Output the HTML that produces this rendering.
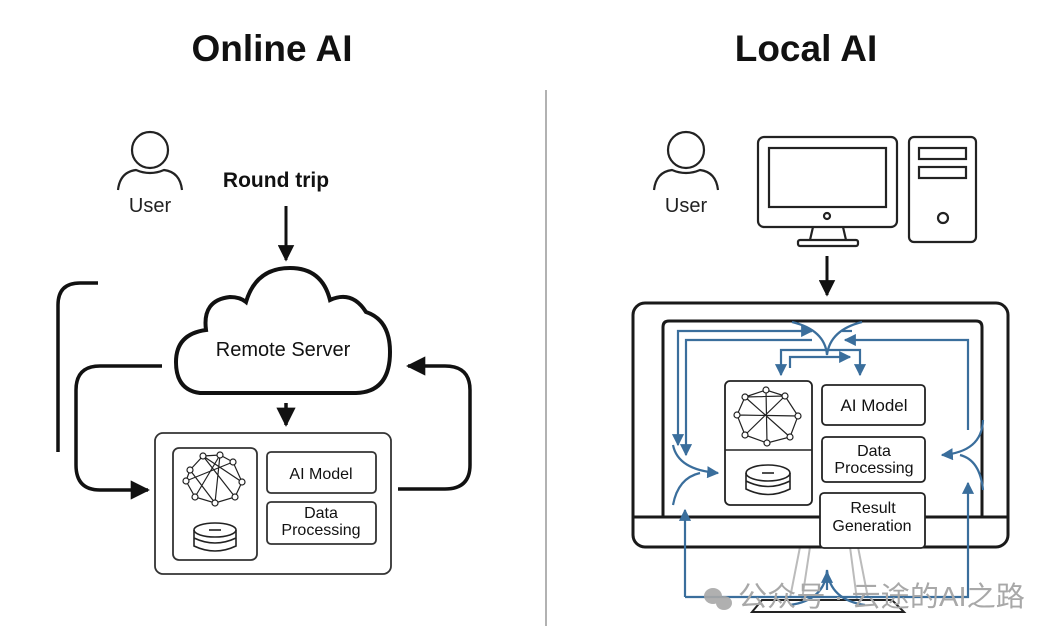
<!DOCTYPE html>
<html><head><meta charset="utf-8"><style>
html,body{margin:0;padding:0;background:#fff;}
svg{display:block;}
text{font-family:"Liberation Sans","Noto Sans CJK SC",sans-serif;}
</style></head><body>
<svg width="1059" height="638" viewBox="0 0 1059 638" xmlns="http://www.w3.org/2000/svg">
<defs>
<marker id="ab" viewBox="0 0 10 10" refX="9" refY="5" markerWidth="5.5" markerHeight="5.5" orient="auto"><path d="M0,0 L10,5 L0,10 z" fill="#111"/></marker>
<marker id="bl" viewBox="0 0 10 10" refX="9" refY="5" markerWidth="5.5" markerHeight="5.5" orient="auto"><path d="M0,0 L10,5 L0,10 z" fill="#3a6e9c"/></marker>
</defs>
<text x="272" y="61" font-size="37" font-weight="bold" text-anchor="middle" fill="#111">Online AI</text>
<text x="806" y="61" font-size="37" font-weight="bold" text-anchor="middle" fill="#111">Local AI</text>
<line x1="546" y1="90" x2="546" y2="626" stroke="#999" stroke-width="1.5"/>

<g fill="none" stroke="#222" stroke-width="2.2">
<circle cx="150" cy="150" r="18"/>
<path d="M118,190 Q120,172 136,170 Q150,176 164,170 Q180,172 182,190"/>
<circle cx="686" cy="150" r="18"/>
<path d="M654,190 Q656,172 672,170 Q686,176 700,170 Q716,172 718,190"/>
</g>
<text x="150" y="212" font-size="20" text-anchor="middle" fill="#222">User</text>
<text x="686" y="212" font-size="20" text-anchor="middle" fill="#222">User</text>
<text x="276" y="187" font-size="21" font-weight="bold" text-anchor="middle" fill="#111">Round trip</text>
<line x1="286" y1="206" x2="286" y2="260" stroke="#111" stroke-width="3" marker-end="url(#ab)"/>

<path d="M200,393 Q176,390 176,362 Q176,334 206,330 Q202,300 230,297 Q240,297 246,302 Q256,268 290,268 Q322,268 330,300 Q352,290 366,312 Q390,320 390,352 Q390,392 356,393 Z" fill="#fff" stroke="#111" stroke-width="4"/>
<text x="283" y="356" font-size="20" text-anchor="middle" fill="#111">Remote Server</text>

<g fill="none" stroke="#111" stroke-width="3.5">
<path d="M98,283 H80 Q58,283 58,305 V452"/>
<path d="M162,366 H100 Q76,366 76,390 V465 Q76,490 100,490 H148" marker-end="url(#ab)"/>
<path d="M398,489 H445 Q470,489 470,465 V390 Q470,366 445,366 H408" marker-end="url(#ab)"/>
<line x1="286" y1="403" x2="286" y2="425" marker-end="url(#ab)"/>
</g>
<rect x="155" y="433" width="236" height="141" rx="8" fill="#fff" stroke="#333" stroke-width="1.8"/>
<rect x="173" y="448" width="84" height="112" rx="6" fill="none" stroke="#333" stroke-width="1.8"/>
<rect x="267" y="452" width="109" height="41" rx="4" fill="none" stroke="#333" stroke-width="1.8"/>
<rect x="267" y="502" width="109" height="42" rx="4" fill="none" stroke="#333" stroke-width="1.8"/>
<text x="321" y="479" font-size="16" text-anchor="middle" fill="#111">AI Model</text>
<text x="321" y="518" font-size="16" text-anchor="middle" fill="#111">Data</text>
<text x="321" y="535" font-size="16" text-anchor="middle" fill="#111">Processing</text>
<g stroke="#222" stroke-width="1.2" fill="#fff">
<path d="M190,470 L203,456 L220,455 L233,462 L242,482 L235,497 L215,503 L195,497 L186,481 Z M190,470 L215,503 M203,456 L235,497 M220,455 L195,497 M233,462 L186,481 M242,482 L203,456 M215,503 L220,455" fill="none"/>
<circle cx="190" cy="470" r="3"/><circle cx="203" cy="456" r="3"/><circle cx="220" cy="455" r="3"/><circle cx="233" cy="462" r="3"/><circle cx="242" cy="482" r="3"/><circle cx="235" cy="497" r="3"/><circle cx="215" cy="503" r="3"/><circle cx="195" cy="497" r="3"/><circle cx="186" cy="481" r="3"/>
</g>
<g stroke="#222" stroke-width="1.6" fill="none">
<ellipse cx="215" cy="530" rx="21" ry="7"/>
<path d="M194,530 V546 Q215,556 236,546 V530 M194,538 Q215,548 236,538"/>
<line x1="209" y1="530" x2="221" y2="530"/>
</g>

<g fill="none" stroke="#222" stroke-width="2.2">
<rect x="758" y="137" width="139" height="90" rx="6"/>
<rect x="769" y="148" width="117" height="59"/>
<circle cx="827" cy="216" r="3"/>
<path d="M813,227 L810,240 M843,227 L846,240"/>
<rect x="798" y="240" width="60" height="6" rx="2"/>
<rect x="909" y="137" width="67" height="105" rx="5"/>
<rect x="919" y="148" width="47" height="11"/>
<rect x="919" y="167" width="47" height="11"/>
<circle cx="943" cy="218" r="5"/>
</g>
<line x1="827" y1="256" x2="827" y2="295" stroke="#111" stroke-width="3" marker-end="url(#ab)"/>

<g fill="none">
<path d="M800,547 L790,598 M858,547 L868,598 M810,547 L802,600 M850,547 L857,600" stroke="#bbb" stroke-width="2"/>
<path d="M752,612 L762,600 H892 L904,612 Z" stroke="#222" stroke-width="2"/>
<rect x="633" y="303" width="375" height="244" rx="12" stroke="#1a1a1a" stroke-width="3"/>
<path d="M663,517 V327 Q663,321 669,321 H976 Q982,321 982,327 V517" stroke="#1a1a1a" stroke-width="3"/>
<line x1="633" y1="517" x2="1008" y2="517" stroke="#1a1a1a" stroke-width="3"/>
</g>
<rect x="725" y="381" width="87" height="124" rx="5" fill="#fff" stroke="#222" stroke-width="1.8"/>
<line x1="725" y1="450" x2="812" y2="450" stroke="#222" stroke-width="1.5"/>
<g stroke="#222" stroke-width="1.2" fill="#fff">
<path d="M745,397 L766,390 L785,396 L798,416 L790,437 L767,443 L745,435 L737,415 Z M745,397 L790,437 M766,390 L767,443 M785,396 L745,435 M798,416 L737,415 M745,397 L785,396" fill="none"/>
<circle cx="745" cy="397" r="3"/><circle cx="766" cy="390" r="3"/><circle cx="785" cy="396" r="3"/><circle cx="798" cy="416" r="3"/><circle cx="790" cy="437" r="3"/><circle cx="767" cy="443" r="3"/><circle cx="745" cy="435" r="3"/><circle cx="737" cy="415" r="3"/>
</g>
<g stroke="#222" stroke-width="1.6" fill="none">
<ellipse cx="768" cy="473" rx="22" ry="8"/>
<path d="M746,473 V489 Q768,500 790,489 V473 M746,481 Q768,492 790,481"/>
<line x1="762" y1="473" x2="774" y2="473"/>
</g>
<rect x="822" y="385" width="103" height="40" rx="4" fill="#fff" stroke="#222" stroke-width="1.8"/>
<rect x="822" y="437" width="103" height="45" rx="4" fill="#fff" stroke="#222" stroke-width="1.8"/>
<rect x="820" y="493" width="105" height="55" rx="4" fill="#fff" stroke="#222" stroke-width="1.8"/>
<text x="874" y="411" font-size="17" text-anchor="middle" fill="#111">AI Model</text>
<text x="874" y="456" font-size="16" text-anchor="middle" fill="#111">Data</text>
<text x="874" y="473" font-size="16" text-anchor="middle" fill="#111">Processing</text>
<text x="873" y="513" font-size="16" text-anchor="middle" fill="#111">Result</text>
<text x="872" y="531" font-size="16" text-anchor="middle" fill="#111">Generation</text>

<g fill="none" stroke="#3a6e9c" stroke-width="2.2">
<path d="M812,331 H678 V445" marker-end="url(#bl)"/>
<path d="M812,340 H686 V455" marker-end="url(#bl)"/>
<path d="M968,430 V340 H845" marker-end="url(#bl)"/>
<path d="M792,322 Q825,330 827,355 Q830,330 862,322"/>
<path d="M800,331 H812" marker-end="url(#bl)"/>
<path d="M852,331 H842" />
<path d="M827,350 H781 V375" marker-end="url(#bl)"/>
<path d="M827,350 H860 V375" marker-end="url(#bl)"/>
<path d="M790,368 V357 H850" marker-end="url(#bl)"/>
<path d="M673,445 Q678,470 718,473" marker-end="url(#bl)"/>
<path d="M673,505 Q678,478 700,473"/>
<path d="M983,420 Q982,452 942,455" marker-end="url(#bl)"/>
<path d="M983,490 Q980,460 960,455"/>
<path d="M685,597 V510" marker-end="url(#bl)"/>
<path d="M685,597 H968 V483" marker-end="url(#bl)"/>
<path d="M790,605 Q825,600 827,570 Q830,600 865,605"/>
<path d="M827,590 V572" marker-end="url(#bl)"/>
</g>

<g fill="#a8a8a8" opacity="0.9">
<ellipse cx="713" cy="596" rx="9" ry="8"/>
<ellipse cx="724" cy="603" rx="8" ry="7"/>
</g>
<text x="738" y="606" font-size="28" fill="#a8a8a8" textLength="287" lengthAdjust="spacingAndGlyphs">公众号 · 云途的AI之路</text>
</svg>
</body></html>
